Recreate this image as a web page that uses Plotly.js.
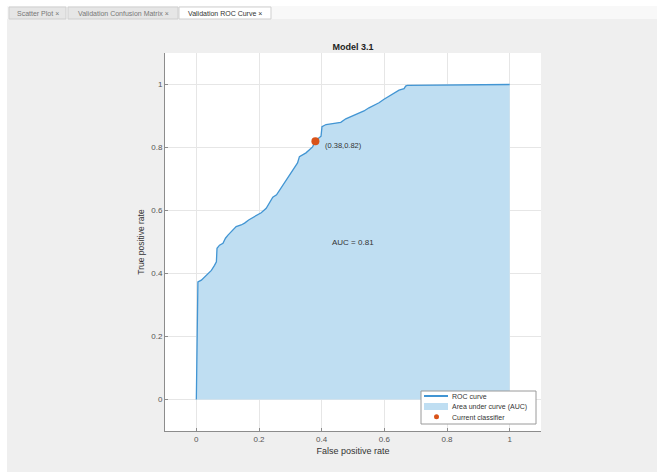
<!DOCTYPE html>
<html>
<head>
<meta charset="utf-8">
<script src="https://cdn.plot.ly/plotly-3.0.1.min.js"></script>
<style>
html,body{margin:0;padding:0;background:#ffffff;}
#chart{width:657px;height:472px;}
</style>
</head>
<body>
<div id="chart"></div>
<script>
// ---- data ----
const fpr = [0, 0.005, 0.016, 0.026, 0.037, 0.048, 0.058, 0.064, 0.066, 0.074, 0.085, 0.093, 0.101, 0.111, 0.127, 0.143, 0.154, 0.167, 0.175, 0.191, 0.207, 0.223, 0.233, 0.239, 0.244, 0.256, 0.27, 0.281, 0.291, 0.302, 0.313, 0.323, 0.329, 0.35, 0.371, 0.38, 0.387, 0.398, 0.401, 0.414, 0.435, 0.461, 0.477, 0.498, 0.52, 0.535, 0.551, 0.567, 0.583, 0.599, 0.615, 0.631, 0.647, 0.663, 0.668, 0.673, 0.806, 1.0];
const tpr = [0, 0.373, 0.379, 0.389, 0.398, 0.41, 0.426, 0.437, 0.48, 0.49, 0.496, 0.512, 0.522, 0.533, 0.549, 0.554, 0.56, 0.57, 0.575, 0.583, 0.593, 0.607, 0.623, 0.634, 0.642, 0.65, 0.671, 0.689, 0.703, 0.721, 0.735, 0.751, 0.771, 0.783, 0.802, 0.82, 0.827, 0.836, 0.866, 0.873, 0.876, 0.88, 0.891, 0.90, 0.91, 0.916, 0.926, 0.934, 0.942, 0.953, 0.963, 0.974, 0.982, 0.987, 0.995, 0.997, 0.998, 1.0];
const currentFPR = [0.38];
const currentTPR = [0.82];
const aucValue = 0.81;
const tickVals = [0, 0.2, 0.4, 0.6, 0.8, 1];
const tickText = ['0', '0.2', '0.4', '0.6', '0.8', '1'];
const tabLabels = ['Scatter Plot \u00d7', 'Validation Confusion Matrix \u00d7', 'Validation ROC Curve \u00d7'];
const legendLabels = ['ROC curve', 'Area under curve (AUC)', 'Current classifier'];

// ---- geometry helpers (pixel -> paper) ----
const W = 657, H = 472, ML = 165, MR = 116, MT = 53, MB = 41;
const PW = W - ML - MR, PH = H - MT - MB;
const px = v => (v - ML) / PW;
const py = v => (H - MB - v) / PH;

const lineColor = '#4295d3';
const fillColor = 'rgb(191,222,242)';
const markerColor = '#D95319';
const FONT = 'Liberation Sans, Arial, sans-serif';

const traces = [
  {x: fpr, y: tpr, type: 'scatter', mode: 'lines', fill: 'tozeroy', fillcolor: fillColor,
   line: {width: 0, color: fillColor}, hoverinfo: 'skip', showlegend: false},
  {x: fpr, y: tpr, type: 'scatter', mode: 'lines', line: {color: lineColor, width: 1.3},
   name: legendLabels[0], showlegend: false},
  {x: currentFPR, y: currentTPR, type: 'scatter', mode: 'markers',
   marker: {color: markerColor, size: 8}, name: legendLabels[2], showlegend: false}
];

const shapes = [];
const annotations = [];
function rectPx(x0, y0, x1, y1, fill, line, lw) {
  shapes.push({type: 'rect', xref: 'paper', yref: 'paper', x0: px(x0), x1: px(x1), y0: py(y1), y1: py(y0),
    fillcolor: fill, line: {color: line || fill, width: lw === undefined ? 0 : lw}, layer: 'above'});
}
// outer white frame + tab strip
rectPx(0, 0, W, 6, '#ffffff');
rectPx(0, 0, 7, H, '#ffffff');
rectPx(7, 6, W, 19, '#f8f8f8');
const tabs = [[9, 66, '#e6e6e6'], [68, 178, '#e6e6e6'], [179, 271, '#ffffff']];
tabs.forEach((t, i) => {
  rectPx(t[0], 7, t[1], 19, t[2], '#cfcfcf', 1);
  annotations.push({xref: 'paper', yref: 'paper', x: px((t[0] + t[1]) / 2), y: py(13), text: tabLabels[i],
    showarrow: false, xanchor: 'center', yanchor: 'middle',
    font: {family: FONT, size: 7, color: i === 2 ? '#333333' : '#777777'}});
});

// manual legend
rectPx(421, 391, 536, 424, '#ffffff', '#9a9a9a', 1);
shapes.push({type: 'line', xref: 'paper', yref: 'paper', x0: px(424), x1: px(448), y0: py(396), y1: py(396),
  line: {color: lineColor, width: 2}, layer: 'above'});
rectPx(424, 403, 448, 410, fillColor);
shapes.push({type: 'circle', xref: 'paper', yref: 'paper', x0: px(434), x1: px(439), y0: py(419.2), y1: py(414.2),
  fillcolor: markerColor, line: {color: markerColor, width: 0}, layer: 'above'});
[396, 406.5, 417].forEach((yy, i) => {
  annotations.push({xref: 'paper', yref: 'paper', x: px(450), y: py(yy), text: legendLabels[i], showarrow: false,
    xanchor: 'left', yanchor: 'middle', font: {family: FONT, size: 7, color: '#333333'}});
});

// data annotations
annotations.push({x: 0.405, y: 0.805, xref: 'x', yref: 'y', text: '(' + currentFPR[0].toFixed(2) + ',' + currentTPR[0].toFixed(2) + ')',
  showarrow: false, xanchor: 'left', yanchor: 'middle', font: {family: FONT, size: 7.5, color: '#333333'}});
annotations.push({x: 0.5, y: 0.5, xref: 'x', yref: 'y', text: 'AUC = ' + aucValue.toFixed(2),
  showarrow: false, xanchor: 'center', yanchor: 'middle', font: {family: FONT, size: 8, color: '#333333'}});

const axisCommon = {
  range: [-0.1, 1.1], tickvals: tickVals, ticktext: tickText, showgrid: true, gridcolor: '#e6e6e6', gridwidth: 1,
  zeroline: false, showline: true, linecolor: '#8c8c8c', linewidth: 1, mirror: false,
  ticks: 'inside', ticklen: 3, tickcolor: '#8c8c8c', fixedrange: true, automargin: false,
  tickfont: {family: FONT, size: 8, color: '#555555'}
};

const layout = {
  width: W, height: H,
  margin: {l: ML, r: MR, t: MT, b: MB, pad: 0},
  paper_bgcolor: '#efefef', plot_bgcolor: '#ffffff',
  title: {text: '<b>Model 3.1</b>', x: (ML + PW / 2) / W, xanchor: 'center', y: 1 - 47 / H, yanchor: 'middle',
    font: {family: FONT, size: 9, color: '#222222'}},
  xaxis: Object.assign({}, axisCommon, {title: {text: 'False positive rate', standoff: 5,
    font: {family: FONT, size: 9, color: '#333333'}}}),
  yaxis: Object.assign({}, axisCommon, {title: {text: 'True positive rate', standoff: 5,
    font: {family: FONT, size: 8.5, color: '#333333'}}}),
  shapes: shapes, annotations: annotations, showlegend: false
};

Plotly.newPlot('chart', traces, layout, {displayModeBar: false, staticPlot: true});
</script>
</body>
</html>
